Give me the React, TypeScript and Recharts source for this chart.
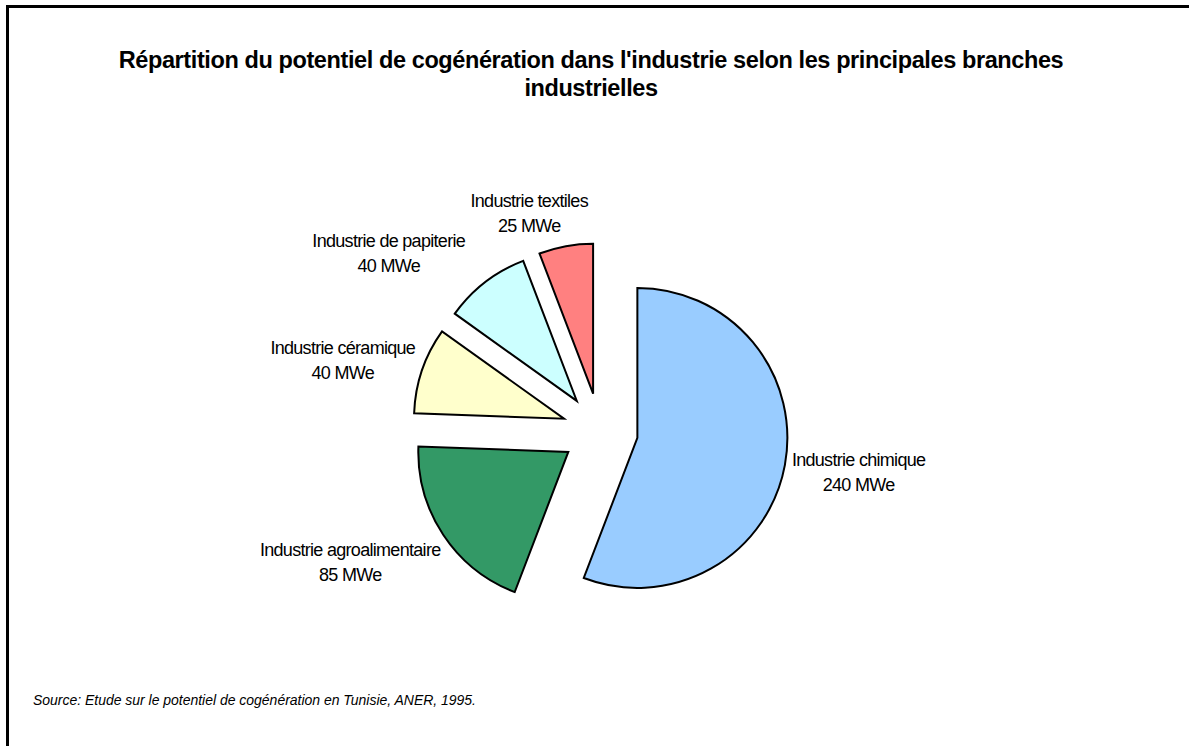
import React from "react";
import { PieChart, Pie, Cell } from "recharts";

const branches = [
  "Industrie chimique",
  "Industrie agroalimentaire",
  "Industrie céramique",
  "Industrie de papiterie",
  "Industrie textiles",
];
const potentielMWe = [240, 85, 40, 40, 25];
const sliceColors = ["#99CCFF", "#339966", "#FFFFCC", "#CCFFFF", "#FF8080"];

const data = branches.map((name, i) => ({ name, value: potentielMWe[i] }));

const W = 1189;
const H = 746;
const RAD = Math.PI / 180;
const EXPLODE = 38;
const FONT = "'Liberation Sans', Arial, sans-serif";

// nudges so labels sit where Excel left them
const labelNudge = [
  [0, 0],
  [-10, 7],
  [-5, 2],
  [-42, 0],
  [-23, 3],
];

const total = potentielMWe.reduce((a, b) => a + b, 0);
const midAngles = potentielMWe.map((v, i) => {
  const before = potentielMWe.slice(0, i).reduce((a, b) => a + b, 0);
  return 90 - (360 * (before + v / 2)) / total;
});

const renderLabel = (p: any) => {
  const { cx, cy, midAngle, outerRadius, index } = p;
  const c = Math.cos(-midAngle * RAD);
  const s = Math.sin(-midAngle * RAD);
  const r = outerRadius + EXPLODE + 12;
  const w = branches[index].length * 7;
  const x = cx + r * c + (c * w) / 2 + labelNudge[index][0];
  const y = cy + r * s + (s * 50) / 2 + labelNudge[index][1];
  return (
    <g>
      <text x={x} y={y - 6} textAnchor="middle" fontFamily={FONT} fontSize={18} letterSpacing={-0.7} fill="#000">
        {branches[index]}
      </text>
      <text x={x} y={y + 19} textAnchor="middle" fontFamily={FONT} fontSize={18} letterSpacing={-0.7} fill="#000">
        {potentielMWe[index]} MWe
      </text>
    </g>
  );
};

export default function App() {
  return (
    <div style={{ position: "absolute", left: 0, top: 0, width: W, height: H, overflow: "hidden", background: "#fff" }}>
      <div
        style={{
          position: "absolute",
          left: 6,
          top: 5,
          width: W - 9,
          height: H - 8,
          borderTop: "3px solid #000",
          borderLeft: "3px solid #000",
        }}
      />
      <div
        style={{
          position: "absolute",
          left: 41,
          width: 1100,
          top: 46,
          textAlign: "center",
          fontFamily: FONT,
          fontWeight: "bold",
          fontSize: 23.5,
          letterSpacing: -0.4,
          lineHeight: "28px",
        }}
      >
        Répartition du potentiel de cogénération dans l'industrie selon les principales branches
        <br />
        industrielles
      </div>
      <div
        style={{
          position: "absolute",
          left: 33,
          top: 692,
          fontFamily: FONT,
          fontStyle: "italic",
          fontSize: 14,
          letterSpacing: -0.02,
        }}
      >
        Source: Etude sur le potentiel de cogénération en Tunisie, ANER, 1995.
      </div>
      <div style={{ position: "absolute", left: 0, top: 0 }}>
        <PieChart width={W} height={H} margin={{ top: 0, right: 0, bottom: 0, left: 0 }}>
          <Pie
            data={data}
            dataKey="value"
            nameKey="name"
            cx={600}
            cy={431}
            outerRadius={150}
            startAngle={90}
            endAngle={-270}
            stroke="#000"
            strokeWidth={2}
            label={renderLabel}
            labelLine={false}
            isAnimationActive={false}
          >
            {data.map((d, i) => (
              <Cell
                key={d.name}
                fill={sliceColors[i]}
                transform={`translate(${EXPLODE * Math.cos(-midAngles[i] * RAD)}, ${EXPLODE * Math.sin(-midAngles[i] * RAD)})`}
              />
            ))}
          </Pie>
        </PieChart>
      </div>
    </div>
  );
}
